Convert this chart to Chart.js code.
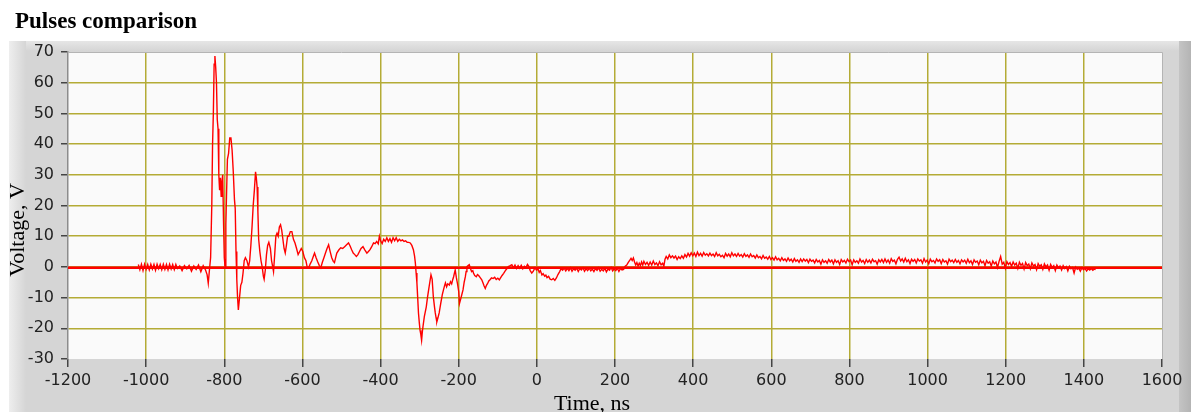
<!DOCTYPE html>
<html>
<head>
<meta charset="utf-8">
<title>Pulses comparison</title>
<script src="https://cdn.jsdelivr.net/npm/chart.js@4.4.1/dist/chart.umd.min.js"></script>
<style>
  html, body { margin: 0; padding: 0; background: #fff; }
  #wrap { width: 1191px; height: 412px; }
</style>
</head>
<body>
<div id="wrap"><canvas id="pulseChart" width="1191" height="412"></canvas></div>
<script>
const xTicks = [-1200, -1000, -800, -600, -400, -200, 0, 200, 400, 600, 800, 1000, 1200, 1400, 1600];
const yTicks = [-30, -20, -10, 0, 10, 20, 30, 40, 50, 60, 70];

// measured pulse, time in ns / voltage in V
const pulseTime = [
  -1020, -1016, -1012, -1008, -1004, -1000, -996, -992, -988, -984, -980, -976, -972, -968, -964, -960,
  -956, -952, -948, -944, -940, -936, -932, -928, -924, -920, -914, -908, -902, -896, -890, -884,
  -878, -872, -866, -860, -854, -848, -844, -841, -838, -835, -832, -830, -828, -826, -824, -822,
  -820, -818, -816, -814, -812, -810, -808, -806, -804, -802, -800, -798, -796, -794, -792, -789,
  -786, -783, -780, -777, -774, -772, -770, -768, -766, -764, -761, -758, -755, -752, -749, -746,
  -742, -738, -735, -732, -729, -726, -723, -720, -718, -716, -714, -712, -709, -706, -703, -700,
  -698, -695, -692, -689, -686, -682, -679, -676, -674, -671, -668, -665, -662, -659, -656, -653,
  -650, -647, -644, -641, -638, -635, -631, -627, -623, -619, -615, -611, -607, -603, -599, -595,
  -591, -588, -584, -580, -576, -572, -569, -565, -561, -557, -553, -549, -545, -541, -537, -533,
  -529, -525, -521, -518, -515, -512, -507, -502, -497, -492, -487, -482, -478, -474, -470, -466,
  -462, -458, -454, -450, -445, -440, -435, -431, -427, -423, -418, -414, -410, -406, -403, -400,
  -396, -392, -388, -384, -380, -376, -372, -368, -364, -360, -356, -352, -348, -344, -340, -336,
  -332, -328, -324, -320, -316, -313, -311, -309, -307, -305, -303, -301, -299, -297, -295, -293,
  -291, -288, -283, -280, -277, -274, -271, -268, -265, -262, -260, -258, -256, -253, -250, -246,
  -242, -239, -236, -234, -231, -228, -224, -221, -218, -215, -213, -211, -209, -206, -203, -200,
  -198, -195, -192, -189, -186, -183, -181, -179, -176, -173, -170, -167, -164, -162, -159, -155,
  -152, -149, -145, -141, -138, -135, -132, -129, -126, -123, -120, -116, -112, -108, -104, -100,
  -96, -93, -89, -85, -81, -77, -73, -68, -64, -60, -56, -52, -48, -44, -40, -36,
  -32, -28, -24, -21, -17, -13, -9, -5, -1, 3, 6, 9, 13, 16, 20, 23,
  26, 30, 34, 38, 42, 46, 50, 54, 58, 62, 66, 70, 74, 78, 82, 86,
  90, 94, 98, 102, 106, 110, 114, 118, 122, 126, 130, 134, 138, 142, 146, 150,
  154, 158, 162, 166, 170, 174, 178, 182, 186, 190, 194, 198, 202, 206, 210, 214,
  218, 222, 226, 230, 234, 238, 241, 244, 247, 250, 253, 256, 259, 262, 265, 268,
  271, 274, 278, 282, 286, 290, 294, 298, 302, 306, 310, 314, 318, 322, 325, 328,
  331, 335, 339, 343, 347, 351, 355, 359, 363, 367, 371, 375, 379, 383, 387, 391,
  395, 399, 403, 407, 411, 415, 419, 423, 427, 431, 435, 439, 443, 447, 451, 455,
  459, 463, 467, 471, 475, 479, 483, 487, 491, 495, 499, 503, 507, 511, 515, 519,
  523, 527, 531, 535, 539, 543, 547, 551, 555, 559, 563, 567, 571, 575, 579, 583,
  587, 591, 595, 599, 603, 607, 611, 615, 619, 623, 627, 631, 635, 639, 643, 647,
  651, 655, 659, 663, 667, 671, 675, 679, 683, 687, 691, 695, 699, 703, 707, 711,
  715, 719, 723, 727, 731, 735, 739, 743, 747, 751, 755, 759, 763, 767, 771, 775,
  779, 783, 787, 791, 795, 799, 803, 807, 811, 815, 819, 823, 827, 831, 835, 839,
  843, 847, 851, 855, 859, 863, 867, 871, 875, 879, 883, 887, 891, 895, 899, 903,
  907, 911, 915, 919, 923, 927, 931, 935, 939, 943, 947, 951, 955, 959, 963, 967,
  971, 975, 979, 983, 987, 991, 995, 999, 1003, 1007, 1011, 1015, 1019, 1023, 1027, 1031,
  1035, 1039, 1043, 1047, 1051, 1055, 1059, 1063, 1067, 1071, 1075, 1079, 1083, 1087, 1091, 1095,
  1099, 1103, 1107, 1111, 1115, 1119, 1123, 1127, 1131, 1135, 1139, 1143, 1147, 1151, 1155, 1159,
  1163, 1167, 1171, 1175, 1179, 1183, 1187, 1191, 1195, 1199, 1203, 1207, 1211, 1215, 1219, 1223,
  1227, 1231, 1235, 1239, 1243, 1247, 1251, 1255, 1259, 1263, 1267, 1271, 1275, 1279, 1283, 1287,
  1291, 1295, 1299, 1303, 1307, 1311, 1315, 1319, 1323, 1327, 1331, 1335, 1339, 1343, 1347, 1351,
  1355, 1359, 1363, 1367, 1371, 1375, 1379, 1383, 1387, 1391, 1395, 1399, 1403, 1407, 1411, 1415,
  1419, 1423, 1427, 1430
];
const pulseVolt = [
  0.8, -0.9, 0.9, -1.2, 0.9, -0.8, 0.8, -1.0, 0.9, -0.7, 0.8, -1.1, 0.9, -0.6, 0.8, -0.9,
  0.9, -0.8, 0.8, -1.0, 0.9, -0.7, 0.8, -0.9, 0.8, -0.5, 0.3, -1.2, 0.4, -0.6, 0.5, -1.4,
  0.3, -0.8, 0.6, -1.6, 0.4, -1.0, -2.5, -5.3, -1.0, 3.0, 20, 40, 50, 66, 68.7, 65,
  60, 48, 45, 30, 25, 29, 23, 28, 30, 15, 3, 0, 14, 25, 35, 37,
  42, 42, 38, 31, 22, 19, 5, -4, -10, -14, -10, -6, -5, -2, 2, 3,
  2, 0, 2, 7, 13, 20, 25, 31, 29, 26, 18, 9, 5, 2, 0, -3,
  -4, -1, 4, 7, 8, 6, 2, 0, -1.5, 4, 10, 11, 10, 13, 13.7, 12,
  9, 6, 4.5, 7, 10, 10, 11.5, 11.5, 9, 7.8, 6, 4, 5, 6, 5, 3,
  2, 0, -0.3, 1, 2, 3.5, 4.5, 3, 1.7, 0.5, -0.3, 1.5, 3, 4.5, 6, 7.2,
  5, 3, 1.8, 1.4, 3, 4.5, 5.5, 6.2, 6, 6.6, 7.2, 7.8, 6.8, 5.6, 4.5, 4,
  3.4, 4, 5, 6, 6.6, 5.5, 4.5, 5, 5.6, 6.5, 7.8, 7.6, 8.3, 7.5, 10, 8.5,
  7.6, 9, 8.3, 9.5, 8.3, 9.2, 8, 9.5, 8.5, 9.5, 8.3, 9, 8.5, 8.8, 8.3, 8.5,
  8, 8, 7.8, 7, 5.6, 3.5, 1.3, -2, -5.2, -10, -15, -18, -20.6, -22, -23.9, -21,
  -19, -16.2, -13, -10, -7.5, -5, -2.6, -4, -9.7, -13, -15, -16.5, -17.9, -16.5, -15, -11.9,
  -9, -7.5, -6, -5.2, -6.5, -5.5, -5.9, -4.8, -5.5, -4, -3.2, -2, -1, -3.5, -5.5, -8,
  -11.9, -10.5, -9, -7.5, -5, -3.2, -1.5, 0.1, 0.4, 0.7, -0.5, -1.5, -1.2, -2.1, -2.8, -3.2,
  -2.5, -2.8, -3.5, -4.2, -5.2, -6.2, -7, -6, -5.4, -4.6, -4.2, -3.6, -3.8, -3.4, -4.1, -3.7,
  -4.2, -3.6, -2.8, -2.1, -1.3, -0.6, 0.1, 0.4, 0.7, -0.3, 0.6, -0.5, 0.4, -0.4, 0.5, -0.6,
  0.2, -0.3, 0.8, 0.3, -1.2, -2, -1.4, -0.3, -1.0, -0.7, -1.8, -1.2, -2.6, -2.2, -3.0, -2.7,
  -3.5, -3.1, -4.0, -4.2, -3.8, -4.4, -3.6, -2.5, -1.6, -0.6, -1.1, -0.4, -1.3, -0.5, -1.2, -0.3,
  -1.4, -0.6, -1.1, -0.4, -1.5, -0.5, -1.0, -0.3, -1.4, -0.6, -1.2, -0.4, -1.3, -0.7, -1.5, -0.5,
  -1.1, -0.3, -1.4, -0.8, -1.3, -0.4, -1.6, -0.7, -1.1, -0.2, -1.3, -0.6, -1.2, -0.4, -1.5, -0.5,
  -1.0, -0.8, 0.2, 0.6, 1.5, 2.2, 2.8, 2.1, 2.9, 1.6, 0.6, 1.4, 0.3, 1.2, 0.4, 1.6,
  0.6, 1.8, 0.8, 1.5, 0.5, 1.6, 0.6, 1.9, 0.8, 1.3, 0.4, 1.7, 0.7, 1.2, 0.2, 2.5,
  3.4, 2.6, 3.9, 3.0, 3.6, 2.9, 3.5, 2.4, 3.3, 2.7, 3.6, 2.8, 4.0, 3.2, 4.4, 3.5,
  4.6, 3.6, 4.5, 3.4, 4.8, 3.7, 4.4, 3.5, 4.7, 3.8, 4.3, 3.6, 4.5, 3.7, 4.2, 3.4,
  4.6, 3.6, 4.1, 3.3, 3.8, 3.0, 4.4, 3.5, 4.2, 3.3, 4.6, 3.6, 4.2, 3.4, 4.4, 3.5,
  4.0, 3.2, 4.3, 3.4, 3.9, 3.1, 4.2, 3.3, 3.7, 2.9, 3.9, 3.0, 3.4, 2.6, 3.7, 2.8,
  3.2, 2.5, 3.4, 2.4, 3.0, 2.2, 3.3, 2.3, 2.8, 2.0, 3.0, 2.1, 2.6, 1.8, 2.9, 2.0,
  2.5, 1.6, 2.7, 1.8, 2.3, 1.5, 2.6, 1.7, 2.6, 1.9, 2.4, 1.4, 2.5, 1.8, 2.2, 1.3,
  2.4, 1.6, 2.1, 0.9, 2.3, 1.5, 2.0, 1.2, 2.4, 1.6, 2.2, 1.0, 2.3, 1.5, 2.0, 0.8,
  2.4, 1.6, 2.1, 1.3, 2.5, 1.7, 2.2, 0.7, 2.3, 1.5, 2.0, 1.2, 2.6, 1.6, 2.1, 1.1,
  2.4, 1.5, 2.2, 1.3, 2.5, 1.7, 2.0, 0.9, 2.3, 1.6, 2.4, 1.4, 2.6, 1.5, 2.3, 1.2,
  2.7, 1.8, 2.2, 1.0, 2.5, 3.2, 1.9, 2.6, 1.6, 2.8, 1.7, 2.3, 1.1, 2.5, 1.8, 2.4,
  1.3, 2.6, 1.9, 2.3, 1.2, 2.7, 1.6, 2.2, 1.0, 2.5, 1.7, 2.1, 1.3, 2.6, 1.8, 2.3,
  1.1, 2.4, 1.6, 2.0, 0.9, 2.5, 1.7, 2.2, 1.4, 2.4, 1.5, 2.1, 1.0, 2.3, 1.6, 2.2,
  1.2, 2.5, 1.4, 2.0, 0.8, 2.3, 1.5, 1.9, 0.7, 2.2, 1.3, 1.8, 0.4, 2.1, 1.2, 1.7,
  0.3, 1.9, 1.0, 1.6, -0.2, 1.8, 3.4, 0.9, 1.5, -0.4, 1.7, 0.8, 1.4, 0.2, 1.6, 0.6,
  1.2, -0.5, 1.5, 0.5, 1.1, -0.7, 1.4, 0.4, 0.9, -0.6, 1.3, 0.3, 0.8, -0.9, 1.1, 0.2,
  0.7, -0.8, 1.0, 0.0, 0.6, -1.1, 0.8, -0.2, 0.4, -1.2, 0.6, -0.3, 0.3, -1.0, 0.4, -0.5,
  0.1, -1.3, 0.2, -0.6, -0.2, -2.0, -0.1, -0.8, -0.4, -1.4, -0.3, -0.9, -0.5, -1.3, -0.6, -1.0,
  -0.5, -1.1, -0.7, -0.9
];

// second pulse: flat reference trace across the whole window
const refTime = [-1200, 1600];
const refVolt = [-0.3, -0.3];

const gridColor = 'rgb(180,171,54)';
const tickFont = { family: 'DejaVu Sans', size: 16 };

const panelPlugin = {
  id: 'panel',
  beforeDraw(chart) {
    const { ctx, width, height, chartArea: a } = chart;
    ctx.save();
    ctx.fillStyle = '#ffffff';
    ctx.fillRect(0, 0, width, height);
    ctx.fillStyle = '#d5d5d5';
    ctx.fillRect(9, 41, width - 9, height - 41);
    let g = ctx.createLinearGradient(0, 41, 0, 51);
    g.addColorStop(0, '#e6e6e6');
    g.addColorStop(1, '#d5d5d5');
    ctx.fillStyle = g;
    ctx.fillRect(9, 41, width - 9, 10);
    g = ctx.createLinearGradient(9, 0, 26, 0);
    g.addColorStop(0, '#eeeeee');
    g.addColorStop(1, '#d5d5d5');
    ctx.fillStyle = g;
    ctx.fillRect(9, 41, 17, height - 41);
    g = ctx.createLinearGradient(1179, 0, 1191, 0);
    g.addColorStop(0, '#c4c4c4');
    g.addColorStop(1, '#b4b4b4');
    ctx.fillStyle = g;
    ctx.fillRect(1179, 41, 12, height - 41);
    ctx.fillStyle = '#fafafa';
    ctx.fillRect(a.left, a.top, a.right - a.left, a.bottom - a.top);
    ctx.restore();
  },
  afterDraw(chart) {
    const { ctx, chartArea: a } = chart;
    ctx.save();
    ctx.strokeStyle = '#b4b4b4';
    ctx.lineWidth = 1;
    ctx.beginPath();
    ctx.moveTo(a.left, a.top + 0.5);
    ctx.lineTo(a.right + 0.5, a.top + 0.5);
    ctx.lineTo(a.right + 0.5, a.bottom);
    ctx.stroke();

    ctx.fillStyle = '#000';
    ctx.font = 'bold 23px "Liberation Serif"';
    ctx.textBaseline = 'alphabetic';
    ctx.fillText('Pulses comparison', 15, 28);

    ctx.font = '22px "Liberation Serif"';
    ctx.textAlign = 'center';
    ctx.fillText('Time, ns', 592, 410);
    ctx.translate(24, 230);
    ctx.rotate(-Math.PI / 2);
    ctx.fillText('Voltage, V', 0, 0);
    ctx.restore();
  }
};

const edgeless = (ticks) => (ctx) =>
  (ctx.index === 0 || ctx.index === ticks.length - 1) ? 'rgba(0,0,0,0)' : gridColor;

const chartData = {
  datasets: [
    {
      label: 'Pulse 2',
      data: refTime.map((t, i) => ({ x: t, y: refVolt[i] })),
      borderColor: '#ff0000',
      borderWidth: 2.5,
    },
    {
      label: 'Pulse 1',
      data: pulseTime.map((t, i) => ({ x: t, y: pulseVolt[i] })),
      borderColor: '#ff0000',
      borderWidth: 1.4,
    },
  ],
};

const chartOptions = {
  responsive: false,
  animation: false,
  layout: { padding: { left: 4, top: 52, right: 29, bottom: 0 } },
  elements: {
    point: { radius: 0 },
    line: { tension: 0 },
  },
  plugins: {
    legend: { display: false },
    tooltip: { enabled: false },
  },
  scales: {
    x: {
      type: 'linear',
      min: -1200,
      max: 1600,
      afterBuildTicks: (axis) => { axis.ticks = xTicks.map(v => ({ value: v })); },
      afterFit: (axis) => { axis.height = 53; },
      border: { display: false },
      grid: {
        color: edgeless(xTicks),
        lineWidth: 1.5,
        tickColor: '#444',
        tickLength: 8,
      },
      ticks: {
        color: '#222',
        font: tickFont,
        padding: 4,
        maxRotation: 0,
        callback: (value) => String(value),
      },
    },
    y: {
      type: 'linear',
      min: -30,
      max: 70,
      afterBuildTicks: (axis) => { axis.ticks = yTicks.map(v => ({ value: v })); },
      afterFit: (axis) => { axis.width = 64; },
      border: { display: true, color: '#8c8c8c', width: 1.5 },
      grid: {
        color: edgeless(yTicks),
        lineWidth: 1.5,
        tickColor: '#444',
        tickLength: 7,
      },
      ticks: {
        color: '#222',
        font: tickFont,
        padding: 7,
        callback: (value) => String(value),
      },
    },
  },
};

function initializeChart(context) {
  new Chart(context, {
    type: 'line',
    data: chartData,
    options: chartOptions,
    plugins: [panelPlugin],
  });
}

initializeChart(document.getElementById('pulseChart').getContext('2d'));
</script>
</body>
</html>
